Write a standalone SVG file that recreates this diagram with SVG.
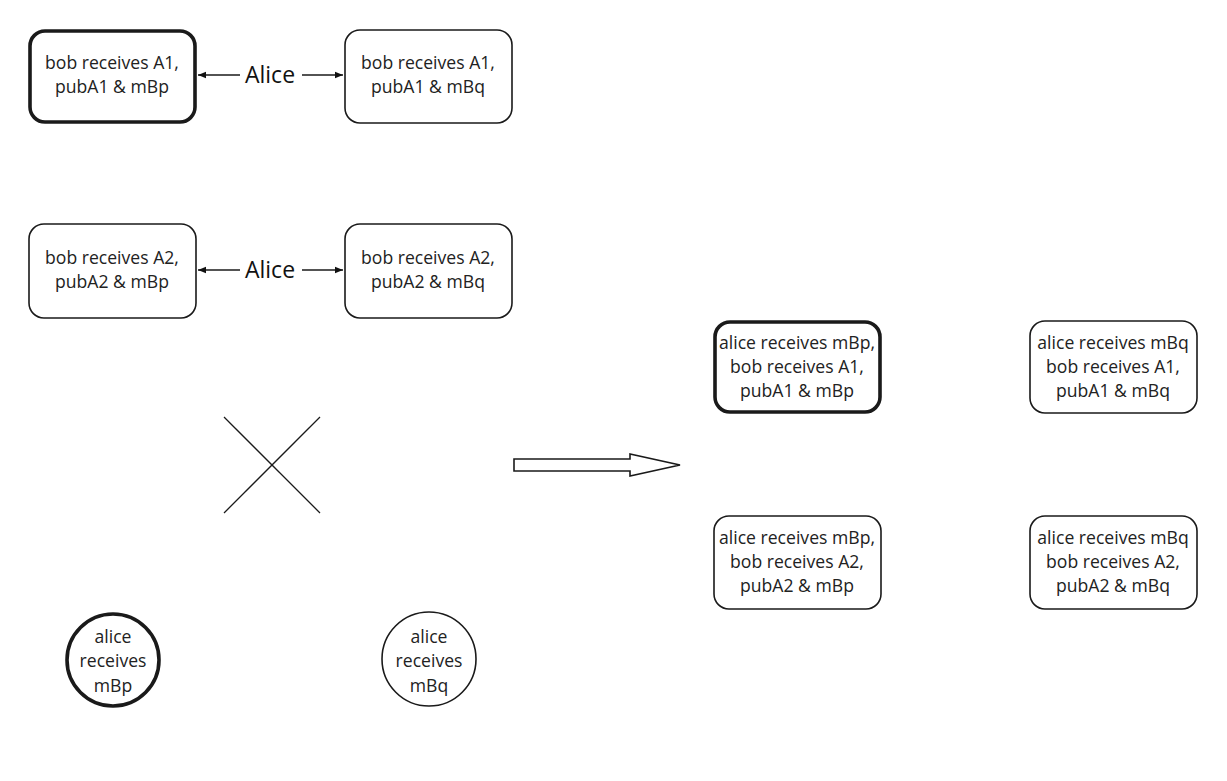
<svg xmlns="http://www.w3.org/2000/svg" width="1227" height="781" viewBox="0 0 1227 781">
<style>
.box{fill:#fff;stroke:#1a1a1a;stroke-width:1.6}
.bold{stroke-width:3.6}
.t{font-family:"Open Sans","Noto Sans",sans-serif;font-size:17.6px;fill:#222;text-anchor:middle}
.lbl{font-family:"Open Sans","Noto Sans",sans-serif;font-size:23px;fill:#111;text-anchor:middle}
.ln{stroke:#1a1a1a;stroke-width:1.3;fill:none}
</style>
<defs>
<marker id="ah" viewBox="0 0 10 10" refX="10" refY="5" markerWidth="10" markerHeight="8" markerUnits="userSpaceOnUse" orient="auto">
<path d="M0,1 L10,5 L0,9 Z" fill="#111"/>
</marker>
</defs>
<rect width="1227" height="781" fill="#fff"/>
<g id="n1"><rect class="box bold" x="30" y="31" width="165" height="91" rx="15"/><text class="t" x="112" y="69">bob receives A1,</text><text class="t" x="112" y="93">pubA1 &amp; mBp</text></g>
<g id="n2"><rect class="box" x="345" y="30" width="167" height="93" rx="15"/><text class="t" x="428" y="69">bob receives A1,</text><text class="t" x="428" y="93">pubA1 &amp; mBq</text></g>
<g id="n3"><rect class="box" x="29" y="224" width="167" height="94" rx="15"/><text class="t" x="112" y="264">bob receives A2,</text><text class="t" x="112" y="288">pubA2 &amp; mBp</text></g>
<g id="n4"><rect class="box" x="345" y="224" width="167" height="94" rx="15"/><text class="t" x="428" y="264">bob receives A2,</text><text class="t" x="428" y="288">pubA2 &amp; mBq</text></g>
<g id="n5"><rect class="box bold" x="715" y="322" width="165" height="90" rx="15"/><text class="t" x="797" y="349">alice receives mBp,</text><text class="t" x="797" y="373">bob receives A1,</text><text class="t" x="797" y="397">pubA1 &amp; mBp</text></g>
<g id="n6"><rect class="box" x="1030" y="321" width="167" height="92" rx="15"/><text class="t" x="1113" y="349">alice receives mBq</text><text class="t" x="1113" y="373">bob receives A1,</text><text class="t" x="1113" y="397">pubA1 &amp; mBq</text></g>
<g id="n7"><rect class="box" x="714" y="516" width="167" height="93" rx="15"/><text class="t" x="797" y="544">alice receives mBp,</text><text class="t" x="797" y="568">bob receives A2,</text><text class="t" x="797" y="592">pubA2 &amp; mBp</text></g>
<g id="n8"><rect class="box" x="1030" y="516" width="167" height="93" rx="15"/><text class="t" x="1113" y="544">alice receives mBq</text><text class="t" x="1113" y="568">bob receives A2,</text><text class="t" x="1113" y="592">pubA2 &amp; mBq</text></g>
<g id="n9"><circle class="box bold" cx="113" cy="660" r="46"/><text class="t" x="113" y="643">alice</text><text class="t" x="113" y="667">receives</text><text class="t" x="113" y="692">mBp</text></g>
<g id="n10"><circle class="box" cx="429" cy="659" r="47"/><text class="t" x="429" y="643">alice</text><text class="t" x="429" y="667">receives</text><text class="t" x="429" y="692">mBq</text></g>
<g id="cross"><line class="ln" x1="224" y1="417" x2="320" y2="513"/><line class="ln" x1="320" y1="417" x2="224" y2="513"/></g>
<g id="bigarrow"><path d="M514,459 L630,459 L630,454 L680,465 L630,476 L630,471 L514,471 Z" fill="#fff" stroke="#1a1a1a" stroke-width="1.6"/></g>
<g id="connectors">
<line class="ln" x1="240" y1="75" x2="198" y2="75" marker-end="url(#ah)"/>
<line class="ln" x1="302" y1="75" x2="343" y2="75" marker-end="url(#ah)"/>
<line class="ln" x1="240" y1="270" x2="198" y2="270" marker-end="url(#ah)"/>
<line class="ln" x1="302" y1="270" x2="343" y2="270" marker-end="url(#ah)"/>
<text class="lbl" x="270" y="83">Alice</text>
<text class="lbl" x="270" y="278">Alice</text>
</g>
</svg>
